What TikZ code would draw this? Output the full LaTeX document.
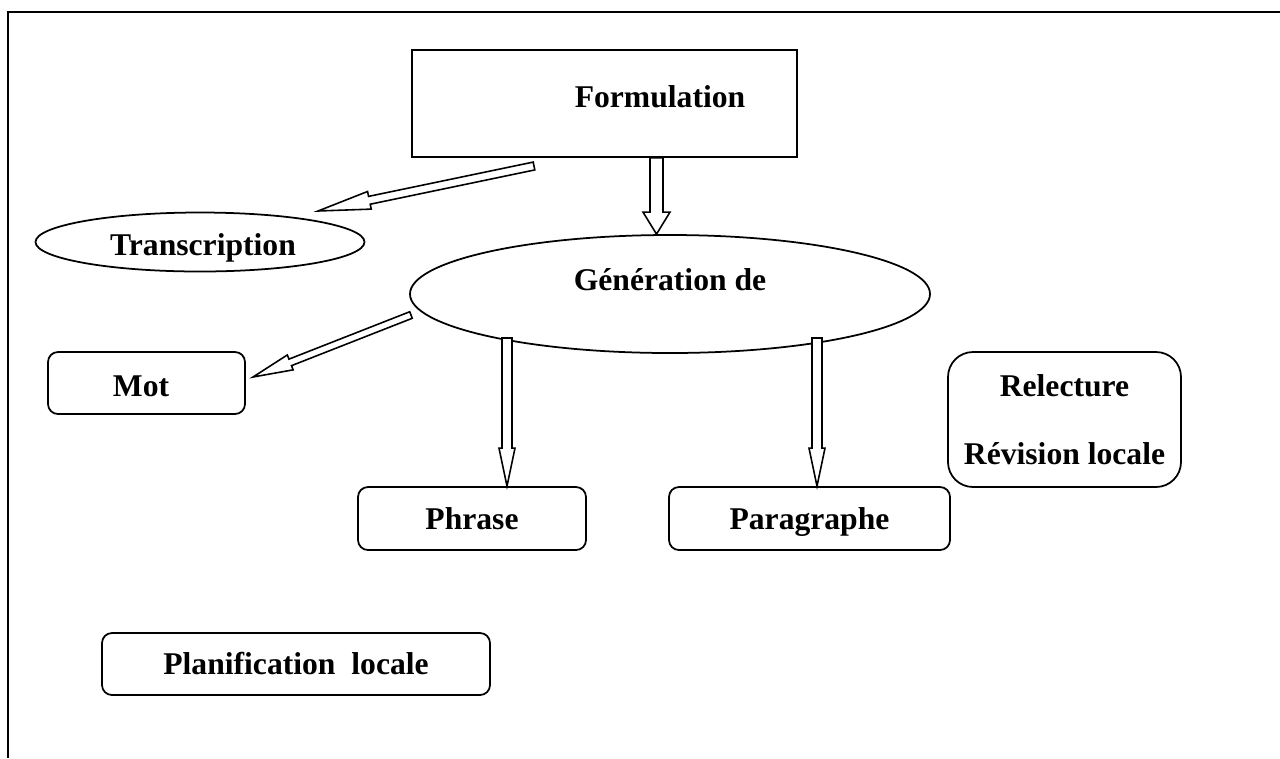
\documentclass[tikz,border=0pt]{standalone}
\usepackage{fontspec}
\setmainfont{Liberation Serif}
\usetikzlibrary{calc,shapes.geometric}

% hollow block arrow: from, to, half shaft, half head, head length
\newcommand{\blockarrow}[5]{%
  \draw[blockarr] let \p1=($(#2)-(#1)$), \n1={atan2(\y1,\x1)} in
    ($(#1)+({\n1+90}:#3)$) -- ($(#2)+({\n1+180}:#5)+({\n1+90}:#3)$)
    -- ($(#2)+({\n1+180}:#5)+({\n1+90}:#4)$) -- (#2)
    -- ($(#2)+({\n1+180}:#5)+({\n1-90}:#4)$) -- ($(#2)+({\n1+180}:#5)+({\n1-90}:#3)$)
    -- ($(#1)+({\n1-90}:#3)$) -- cycle;}

\begin{document}
\begin{tikzpicture}[x=0.2mm,y=-0.2mm,
   font=\fontsize{18}{20}\selectfont\bfseries,
   box/.style={draw,line width=1pt,rounded corners=0.2cm,inner sep=0pt,
               minimum height=1.24cm,align=center},
   onerow/.style={text height=15pt,text depth=3pt},
   oval/.style={draw,line width=1pt,ellipse,inner sep=0pt},
   lbl/.style={inner sep=0pt,text height=15pt,text depth=3pt},
   blockarr/.style={draw,line width=0.9pt,line join=miter,fill=white}]
  \useasboundingbox (0,0) rectangle (1280,758);
  % frame
  \draw[line width=1.3pt] (8,758) -- (8,12) -- (1280,12);

  \node[draw,line width=1pt,minimum width=7.7cm,minimum height=2.14cm] (form) at (604.5,103.5) {};
  \node[lbl] (formtxt) at (660,97) {Formulation};
  \node[oval,minimum width=6.58cm,minimum height=1.18cm] (trans) at (200,242) {};
  \node[lbl] (transtxt) at (203,245) {Transcription};
  \node[oval,minimum width=10.4cm,minimum height=2.36cm] (gen) at (670,294) {};
  \node[lbl] (gentxt) at (670,280) {Génération de};
  \node[box,minimum width=3.94cm] (mot) at (146.5,383) {};
  \node[lbl] (mottxt) at (141,386) {Mot};
  \node[box,rounded corners=0.5cm,minimum width=4.66cm,minimum height=2.7cm] (relec) at (1064.5,419.5)
       {Relecture\\[19pt]Révision locale};
  \node[box,onerow,minimum width=4.56cm,minimum height=1.26cm] (phrase) at (472,518.5) {Phrase};
  \node[box,onerow,minimum width=5.62cm,minimum height=1.26cm] (para) at (809.5,518.5) {Paragraphe};
  \node[box,onerow,minimum width=7.76cm] (planif) at (296,664) {Planification\ \ locale};

  % arrow ends
  \coordinate (f2t) at (534,166);
  \coordinate (t1) at (318,211);
  \coordinate (g2m) at (411,315);
  \coordinate (m1) at (253,377);
  \coordinate (g2p) at (507,338);
  \coordinate (g2q) at (817,338);

  \blockarrow{f2t}{t1}{0.08cm}{0.18cm}{1.05cm}
  \blockarrow{form.south -| 656.5,0}{gen.north -| 656.5,0}{0.13cm}{0.27cm}{0.44cm}
  \blockarrow{g2m}{m1}{0.07cm}{0.16cm}{0.8cm}
  \blockarrow{g2p}{phrase.north -| g2p}{0.1cm}{0.16cm}{0.76cm}
  \blockarrow{g2q}{para.north -| g2q}{0.1cm}{0.16cm}{0.76cm}
\end{tikzpicture}
\end{document}
